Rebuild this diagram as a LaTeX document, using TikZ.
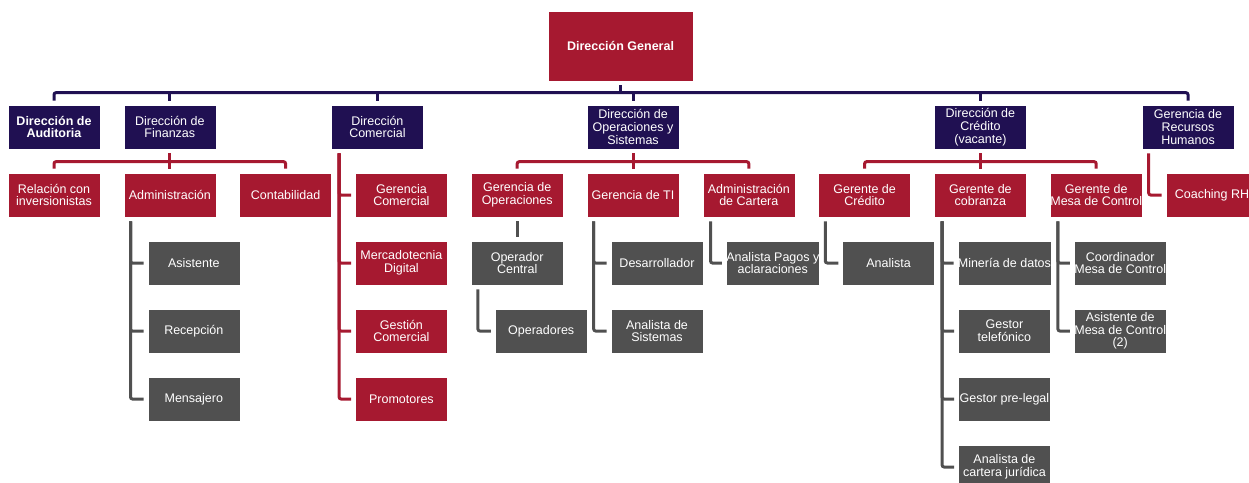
\documentclass[tikz,border=0pt]{standalone}
\usepackage{fontspec}
\setmainfont{Liberation Sans}
\usepackage{xcolor}
\usepackage{tikz}
\usetikzlibrary{positioning}

\definecolor{orgnavy}{RGB}{32,16,82}
\definecolor{orgred}{RGB}{166,25,48}
\definecolor{orggray}{RGB}{80,80,80}

\begin{document}
\begin{tikzpicture}[x=1pt, y=1pt, node distance=68pt,
        box/.style={minimum width=92pt, minimum height=44pt, inner sep=0pt, align=center,
            text=white, draw=white, line width=0.6pt, font=\fontsize{12.5}{12.7}\selectfont},
        navybox/.style={box, fill=orgnavy},
        redbox/.style={box, fill=orgred},
        graybox/.style={box, fill=orggray},
        navyline/.style={draw=orgnavy, line width=3pt, rounded corners=2pt},
        redline/.style={draw=orgred, line width=3pt, rounded corners=2pt},
        grayline/.style={draw=orggray, line width=3pt, rounded corners=2pt},
        gap/.style={shorten <=4pt, shorten >=4pt}]
        \useasboundingbox (0,0) rectangle (1249,-482);

        % third row
        \node (ri) [redbox] at (54,-195) {Relación con\\inversionistas};
        \node (adm) [redbox, right of=ri, node distance=115.8pt] {Administración};
        \node (cont) [redbox, right of=adm, node distance=115.8pt] {Contabilidad};
        \node (gc) [redbox, right of=cont, node distance=115.8pt] {Gerencia\\Comercial};
        \node (gop) [redbox, right of=gc, node distance=115.8pt] {Gerencia de\\Operaciones};
        \node (gti) [redbox, right of=gop, node distance=115.8pt] {Gerencia de TI};
        \node (acar) [redbox, right of=gti, node distance=115.8pt] {Administración\\de Cartera};
        \node (gcr) [redbox, right of=acar, node distance=115.8pt] {Gerente de\\Crédito};
        \node (gcob) [redbox, right of=gcr, node distance=115.8pt] {Gerente de\\cobranza};
        \node (gmc) [redbox, right of=gcob, node distance=115.8pt] {Gerente de\\Mesa de Control};
        \node (coach) [redbox, right of=gmc, node distance=115.8pt] {Coaching RH};

        % second row
        \node (da) [navybox, above of=ri] {\textbf{Dirección de}\\\textbf{Auditoria}};
        \node (df) [navybox, above of=adm] {Dirección de\\Finanzas};
        \node (dc) [navybox, above of=gc, xshift=-24pt] {Dirección\\Comercial};
        \node (dop) [navybox, above of=gti] {Dirección de\\Operaciones y\\Sistemas};
        \node (dcr) [navybox, above of=gcob] {Dirección de\\Crédito\\(vacante)};
        \node (rh) [navybox, above of=coach, xshift=-24pt] {Gerencia de\\Recursos\\Humanos};

        \node (dg) [redbox, minimum width=145pt, minimum height=70pt] at (620.5,-46) {\textbf{Dirección General}};

        % fourth row and below
        \node (asis) [graybox, below of=adm, xshift=24pt] {Asistente};
        \node (rec) [graybox, below of=asis] {Recepción};
        \node (men) [graybox, below of=rec] {Mensajero};

        \node (mdig) [redbox, below of=gc] {Mercadotecnia\\Digital};
        \node (gcom) [redbox, below of=mdig] {Gestión\\Comercial};
        \node (prom) [redbox, below of=gcom] {Promotores};

        \node (opc) [graybox, below of=gop] {Operador\\Central};
        \node (ops) [graybox, below of=opc, xshift=24pt] {Operadores};

        \node (des) [graybox, below of=gti, xshift=24pt] {Desarrollador};
        \node (ans) [graybox, below of=des] {Analista de\\Sistemas};

        \node (apa) [graybox, below of=acar, xshift=24pt] {Analista Pagos y\\aclaraciones};

        \node (ana) [graybox, below of=gcr, xshift=24pt] {Analista};

        \node (min) [graybox, below of=gcob, xshift=24pt] {Minería de datos};
        \node (gtel) [graybox, below of=min] {Gestor\\telefónico};
        \node (gpl) [graybox, below of=gtel] {Gestor pre-legal};
        \node (acj) [graybox, below of=gpl] {Analista de\\cartera jurídica};

        \node (cmc) [graybox, below of=gmc, xshift=24pt] {Coordinador\\Mesa de Control};
        \node (amc) [graybox, below of=cmc] {Asistente de\\Mesa de Control\\(2)};

        \draw[navyline, shorten <=4pt] (dg.south) -- ++(0,-12);
        \draw[navyline, gap] (da.north) -- ++(0,12) -| (rh.north);
        \draw[navyline, shorten <=4pt] (df.north) -- ++(0,12);
        \draw[navyline, shorten <=4pt] (dc.north) -- ++(0,12);
        \draw[navyline, shorten <=4pt] (dop.north) -- ++(0,12);
        \draw[navyline, shorten <=4pt] (dcr.north) -- ++(0,12);

        \draw[redline, gap] (ri.north) -- ++(0,11) -| (cont.north);
        \draw[redline, gap] (df.south) -- (adm.north);
        \draw[redline, gap] (gop.north) -- ++(0,11) -| (acar.north);
        \draw[redline, gap] (dop.south) -- (gti.north);
        \draw[redline, gap] (gcr.north) -- ++(0,11) -| (gmc.north);
        \draw[redline, gap] (dcr.south) -- (gcob.north);

        \draw[redline, gap] ([xshift=8pt]dc.south west) |- (gc.west);
        \draw[redline, gap] ([xshift=8pt]dc.south west) |- (mdig.west);
        \draw[redline, gap] ([xshift=8pt]dc.south west) |- (gcom.west);
        \draw[redline, gap] ([xshift=8pt]dc.south west) |- (prom.west);
        \draw[redline, gap] ([xshift=7pt]rh.south west) |- (coach.west);

        \draw[grayline, gap] ([xshift=7pt]adm.south west) |- (asis.west);
        \draw[grayline, gap] ([xshift=7pt]adm.south west) |- (rec.west);
        \draw[grayline, gap] ([xshift=7pt]adm.south west) |- (men.west);
        \draw[grayline, gap] (gop.south) -- (opc.north);
        \draw[grayline, gap] ([xshift=7pt]opc.south west) |- (ops.west);
        \draw[grayline, gap] ([xshift=7pt]gti.south west) |- (des.west);
        \draw[grayline, gap] ([xshift=7pt]gti.south west) |- (ans.west);
        \draw[grayline, gap] ([xshift=8pt]acar.south west) |- (apa.west);
        \draw[grayline, gap] ([xshift=7pt]gcr.south west) |- (ana.west);
        \draw[grayline, gap] ([xshift=8pt]gcob.south west) |- (min.west);
        \draw[grayline, gap] ([xshift=8pt]gcob.south west) |- (gtel.west);
        \draw[grayline, gap] ([xshift=8pt]gcob.south west) |- (gpl.west);
        \draw[grayline, gap] ([xshift=8pt]gcob.south west) |- (acj.west);
        \draw[grayline, gap] ([xshift=8pt]gmc.south west) |- (cmc.west);
        \draw[grayline, gap] ([xshift=8pt]gmc.south west) |- (amc.west);
    \end{tikzpicture}
\end{document}
